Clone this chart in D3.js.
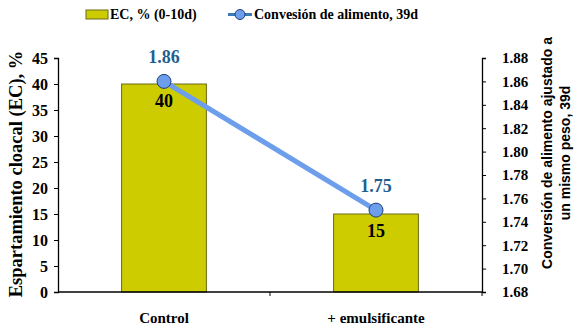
<!DOCTYPE html>
<html>
<head>
<meta charset="utf-8">
<script src="https://cdn.jsdelivr.net/npm/d3@7"></script>
<style>
  html, body { margin: 0; padding: 0; background: #fff; }
  svg { display: block; }
  svg text { font-family: "Liberation Serif", "Times New Roman", serif; font-weight: bold; }
  svg text.sans { font-family: "Liberation Sans Narrow", "Arial Narrow", "Liberation Sans", sans-serif; font-weight: bold; }
</style>
</head>
<body>
<svg id="chart" width="576" height="336"></svg>
<script>
// Chart data
const categories = ["Control", "+ emulsificante"];
const ecValues = [40, 15];            // EC, % (0-10d)
const conversionValues = [1.86, 1.75]; // Conversión de alimento, 39d
const leftTicks = [0, 5, 10, 15, 20, 25, 30, 35, 40, 45];
const rightTicks = [1.68, 1.70, 1.72, 1.74, 1.76, 1.78, 1.80, 1.82, 1.84, 1.86, 1.88];

const svg = d3.select("#chart");

const plot = { left: 58, right: 482, top: 58, bottom: 292 };

const xOuter = d3.scaleBand().domain(categories).range([plot.left, plot.right]);
const yL = d3.scaleLinear().domain([0, 45]).range([plot.bottom, plot.top]);
const yR = d3.scaleLinear().domain([1.68, 1.88]).range([plot.bottom, plot.top]);
const barW = xOuter.bandwidth() * 0.4;

// Bars
svg.append("g").selectAll("rect").data(categories).join("rect")
  .attr("x", d => xOuter(d) + xOuter.bandwidth() / 2 - barW / 2)
  .attr("width", barW)
  .attr("y", (d, i) => yL(ecValues[i]))
  .attr("height", (d, i) => yL(0) - yL(ecValues[i]))
  .attr("fill", "#cccc00")
  .attr("stroke", "#6b6b1a")
  .attr("stroke-width", 1);

// Left axis
const axL = svg.append("g").attr("transform", `translate(${plot.left},0)`)
  .call(d3.axisLeft(yL).tickValues(leftTicks).tickSize(4).tickPadding(6).tickFormat(d3.format("d")));
// Right axis
const axR = svg.append("g").attr("transform", `translate(${plot.right},0)`)
  .call(d3.axisRight(yR).tickValues(rightTicks).tickSize(4).tickPadding(16).tickFormat(d3.format(".2f")));
// Bottom axis with ticks at category boundaries
const axB = svg.append("g").attr("transform", `translate(0,${plot.bottom})`)
  .call(d3.axisBottom(xOuter).tickSize(0).tickPadding(20));
axB.append("line").attr("x1", (plot.left + plot.right) / 2).attr("x2", (plot.left + plot.right) / 2)
  .attr("y1", 0).attr("y2", 4).attr("stroke", "#000");
axB.append("line").attr("x1", plot.right).attr("x2", plot.right)
  .attr("y1", 0).attr("y2", 4).attr("stroke", "#000");

[axL, axR, axB].forEach(a => {
  a.attr("font-family", null);
  a.select(".domain").attr("stroke", "#000").attr("stroke-width", 1.3);
  a.selectAll(".tick line").attr("stroke", "#000");
  a.selectAll("text").attr("font-size", 15).attr("fill", "#000");
});
axL.selectAll(".tick text").attr("font-size", 16);
axR.selectAll(".tick text").attr("text-anchor", "start");
axB.select(".domain").attr("d", `M${plot.left},0H${plot.right}`);

// Conversion line
const px = (d, i) => xOuter(categories[i]) + xOuter.bandwidth() / 2;
const line = d3.line().x((d, i) => px(d, i)).y(d => yR(d));
svg.append("path").datum(conversionValues)
  .attr("d", line).attr("fill", "none")
  .attr("stroke", "#6d9eeb").attr("stroke-width", 5);
svg.append("g").selectAll("circle").data(conversionValues).join("circle")
  .attr("cx", px).attr("cy", d => yR(d)).attr("r", 7)
  .attr("fill", "#6d9eeb").attr("stroke", "#1f3f7a").attr("stroke-width", 1);

// Value labels
svg.append("g").selectAll("text").data(conversionValues).join("text")
  .attr("x", px).attr("y", d => yR(d) - 18)
  .attr("text-anchor", "middle").attr("font-size", 18)
  .attr("fill", "#1f5f8f").text(d => d.toFixed(2));
svg.append("g").selectAll("text").data(ecValues).join("text")
  .attr("x", (d, i) => px(d, i)).attr("y", d => yL(d) + 23)
  .attr("text-anchor", "middle").attr("font-size", 18)
  .attr("fill", "#000").text(d => d);

// Axis titles
svg.append("text")
  .attr("transform", `translate(22,174) rotate(-90)`)
  .attr("text-anchor", "middle").attr("font-size", 18.5)
  .text("Espartamiento cloacal (EC), %");
const rt = svg.append("text").attr("class", "sans")
  .attr("transform", `translate(552,153) rotate(-90)`)
  .attr("text-anchor", "middle").attr("font-size", 14);
rt.append("tspan").attr("x", 0).attr("dy", 0).text("Conversión de alimento ajustado a");
rt.append("tspan").attr("x", 0).attr("dy", 18).text("un mismo peso, 39d");

// Legend
const lg = svg.append("g");
lg.append("rect").attr("x", 86).attr("y", 10).attr("width", 22).attr("height", 9)
  .attr("fill", "#cccc00").attr("stroke", "#6b6b1a");
lg.append("text").attr("x", 110).attr("y", 19).attr("font-size", 14)
  .text("EC, % (0-10d)");
lg.append("line").attr("x1", 228).attr("x2", 252).attr("y1", 14.5).attr("y2", 14.5)
  .attr("stroke", "#3d7ab8").attr("stroke-width", 3);
lg.append("circle").attr("cx", 240).attr("cy", 14.5).attr("r", 5)
  .attr("fill", "#6d9eeb").attr("stroke", "#1f3f7a");
lg.append("text").attr("x", 254).attr("y", 19).attr("font-size", 14)
  .text("Convesión de alimento, 39d");
</script>
</body>
</html>
